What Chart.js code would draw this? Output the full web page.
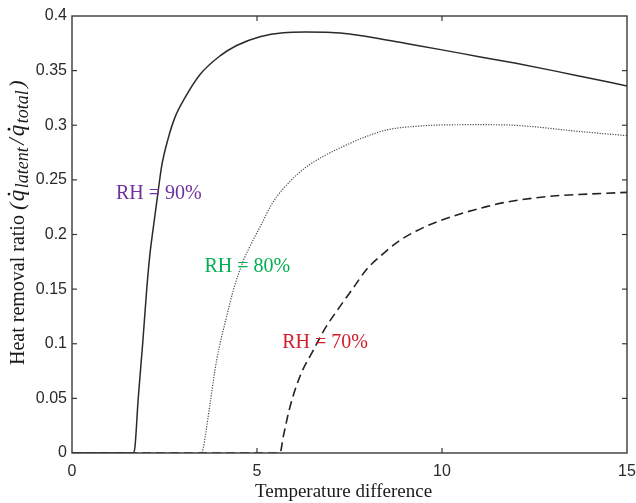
<!DOCTYPE html>
<html><head><meta charset="utf-8">
<script src="https://cdn.jsdelivr.net/npm/chart.js@4.4.1/dist/chart.umd.min.js"></script>
<style>html,body{margin:0;padding:0;background:#fff}#wrap{width:636px;height:503px;position:relative}</style>
</head><body><div id="wrap"><canvas id="c"></canvas></div>
<script>
// ---- data ----
const rh90X = [0, 1.65, 1.7, 1.79, 1.91, 2.02, 2.1, 2.2, 2.33, 2.42, 2.6, 2.78, 3.05, 3.46, 4.0, 4.45, 5.08, 5.71, 6.3, 7.0, 7.5, 8, 9, 10, 11, 12, 13, 14, 15];
const rh90Y = [0, 0, 0.005, 0.05, 0.1, 0.15, 0.18, 0.207, 0.24, 0.262, 0.288, 0.307, 0.325, 0.3465, 0.3635, 0.373, 0.381, 0.3847, 0.3853, 0.3849, 0.3835, 0.381, 0.375, 0.369, 0.3628, 0.3567, 0.35, 0.343, 0.336];

const rh80X = [0, 3.5, 3.55, 3.6, 3.73, 3.91, 4.18, 4.36, 4.63, 4.8, 5.08, 5.44, 5.89, 6.34, 6.79, 7.42, 7.9, 8.5, 9.4, 10, 11, 11.75, 12.46, 13.5, 14.3, 15];
const rh80Y = [0, 0, 0.005, 0.015, 0.045, 0.085, 0.125, 0.149, 0.176, 0.1885, 0.2068, 0.23, 0.2485, 0.262, 0.2715, 0.282, 0.289, 0.2957, 0.2993, 0.3003, 0.3005, 0.3003, 0.2987, 0.295, 0.2925, 0.2905];

const rh70X = [0, 5.62, 5.71, 5.89, 6.16, 6.52, 6.84, 7.24, 7.6, 7.96, 8.5, 8.86, 9.32, 9.86, 10.58, 11.2, 11.75, 13.0, 14.45, 15];
const rh70Y = [0, 0, 0.015, 0.042, 0.07, 0.094, 0.114, 0.134, 0.151, 0.168, 0.185, 0.1945, 0.2035, 0.2115, 0.2197, 0.2255, 0.2297, 0.2352, 0.2377, 0.2386];

const seriesNames = ['RH = 90%', 'RH = 80%', 'RH = 70%'];
const xTickLabels = ['0', '5', '10', '15'];
const yTickLabels = ['0', '0.05', '0.1', '0.15', '0.2', '0.25', '0.3', '0.35', '0.4'];
const xTitle = 'Temperature difference';

// annotation anchors (data units) and colours
const labelAnchorX = [1.19, 3.58, 5.68];
const labelAnchorY = [0.2325, 0.166, 0.0958];
const labelColors = ['#7030A0', '#00B050', '#D0202C'];

const toPts = (xs, ys) => xs.map((x, i) => ({x, y: ys[i]}));

const framePlugin = {
  id: 'frame',
  afterDatasetsDraw(chart) {
    const {ctx, chartArea: a, scales: {x, y}} = chart;
    ctx.save();
    ctx.strokeStyle = '#3a3a3a';
    ctx.lineWidth = 1.4;
    ctx.strokeRect(a.left, a.top, a.right - a.left, a.bottom - a.top);
    ctx.lineWidth = 1.2;
    const L = 5;
    const seg = (x1, y1, x2, y2) => { ctx.beginPath(); ctx.moveTo(x1, y1); ctx.lineTo(x2, y2); ctx.stroke(); };
    x.ticks.forEach(t => {
      const px = x.getPixelForValue(t.value);
      if (px <= a.left + 1 || px >= a.right - 1) return;
      seg(px, a.bottom, px, a.bottom - L); seg(px, a.top, px, a.top + L);
    });
    y.ticks.forEach(t => {
      const py = y.getPixelForValue(t.value);
      if (py <= a.top + 1 || py >= a.bottom - 1) return;
      seg(a.left, py, a.left + L, py); seg(a.right, py, a.right - L, py);
    });
    // curve labels
    ctx.font = '20px "Liberation Serif", "Times New Roman", serif';
    ctx.textAlign = 'left';
    ctx.textBaseline = 'alphabetic';
    seriesNames.forEach((n, i) => {
      ctx.fillStyle = labelColors[i];
      ctx.fillText(n, x.getPixelForValue(labelAnchorX[i]), y.getPixelForValue(labelAnchorY[i]));
    });
    ctx.restore();

    // x title
    ctx.save();
    ctx.fillStyle = '#1a1a1a';
    ctx.font = '19px "Liberation Serif", "Times New Roman", serif';
    ctx.textAlign = 'center';
    ctx.textBaseline = 'alphabetic';
    ctx.fillText(xTitle, (a.left + a.right) / 2 - 6, chart.height - 6.5);
    ctx.restore();

    // y title (rotated, with italic q-dot and subscripts)
    ctx.save();
    ctx.fillStyle = '#1a1a1a';
    ctx.translate(24, 365);
    ctx.rotate(-Math.PI / 2);
    ctx.textAlign = 'left';
    ctx.textBaseline = 'alphabetic';
    let cx = 0;
    const part = (txt, font, dy, gap) => {
      ctx.font = font;
      ctx.fillText(txt, cx, dy);
      cx += ctx.measureText(txt).width + (gap || 0);
    };
    const rom = '20px "Liberation Serif", "Times New Roman", serif';
    const ital = 'italic 23px "Liberation Serif", "Times New Roman", serif';
    const sub = 'italic 18px "Liberation Serif", "Times New Roman", serif';
    const qdot = () => {
      ctx.font = ital;
      const w = ctx.measureText('q').width;
      ctx.fillText('q', cx, 0);
      ctx.beginPath();
      ctx.arc(cx + w * 0.62, -15, 1.4, 0, Math.PI * 2);
      ctx.fill();
      cx += w + 1.5;
    };
    part('Heat removal ratio ', rom, 0);
    part('(', 'italic 22px "Liberation Serif", serif', 0, 1.5);
    qdot();
    part('latent', sub, 4, 2.5);
    part('/', 'italic 23px "Liberation Serif", serif', 0, 2);
    qdot();
    part('total', sub, 4, 2.5);
    part(')', 'italic 22px "Liberation Serif", serif', 0);
    ctx.restore();
  }
};

const tickFont = {family: '"Liberation Sans", Arial, sans-serif', size: 16};

new Chart(document.getElementById('c'), {
  type: 'scatter',
  data: {
    datasets: [
      {label: seriesNames[0], data: toPts(rh90X, rh90Y), showLine: true, borderColor: '#2a2a2a', borderWidth: 1.5, pointRadius: 0, cubicInterpolationMode: 'monotone'},
      {label: seriesNames[1], data: toPts(rh80X, rh80Y), showLine: true, borderColor: '#4a4a4a', borderWidth: 1.2, borderDash: [1.2, 1.4], pointRadius: 0, cubicInterpolationMode: 'monotone'},
      {label: seriesNames[2], data: toPts(rh70X, rh70Y), showLine: true, borderColor: '#222', borderWidth: 1.6, borderDash: [9, 5], pointRadius: 0, cubicInterpolationMode: 'monotone'}
    ]
  },
  options: {
    responsive: true,
    maintainAspectRatio: false,
    animation: false,
    layout: {padding: {top: 16, right: 9, left: 0, bottom: 0}},
    plugins: {legend: {display: false}, tooltip: {enabled: false}},
    scales: {
      x: {
        type: 'linear', min: 0, max: 15,
        grid: {display: false, drawTicks: false},
        border: {display: false},
        ticks: {stepSize: 5, font: tickFont, color: '#2a2a2a', padding: 9, maxRotation: 0,
          callback: (v, i) => xTickLabels[i]},
        afterFit: s => { s.height = 50; s.paddingRight = 0; s.paddingLeft = 0; }
      },
      y: {
        type: 'linear', min: 0, max: 0.4,
        grid: {display: false, drawTicks: false},
        border: {display: false},
        ticks: {stepSize: 0.05, font: tickFont, color: '#2a2a2a', padding: 5,
          callback: (v, i) => yTickLabels[i]},
        afterFit: s => { s.width = 72; s.paddingTop = 0; s.paddingBottom = 0; }
      }
    }
  },
  plugins: [framePlugin]
});
</script>
</body></html>
